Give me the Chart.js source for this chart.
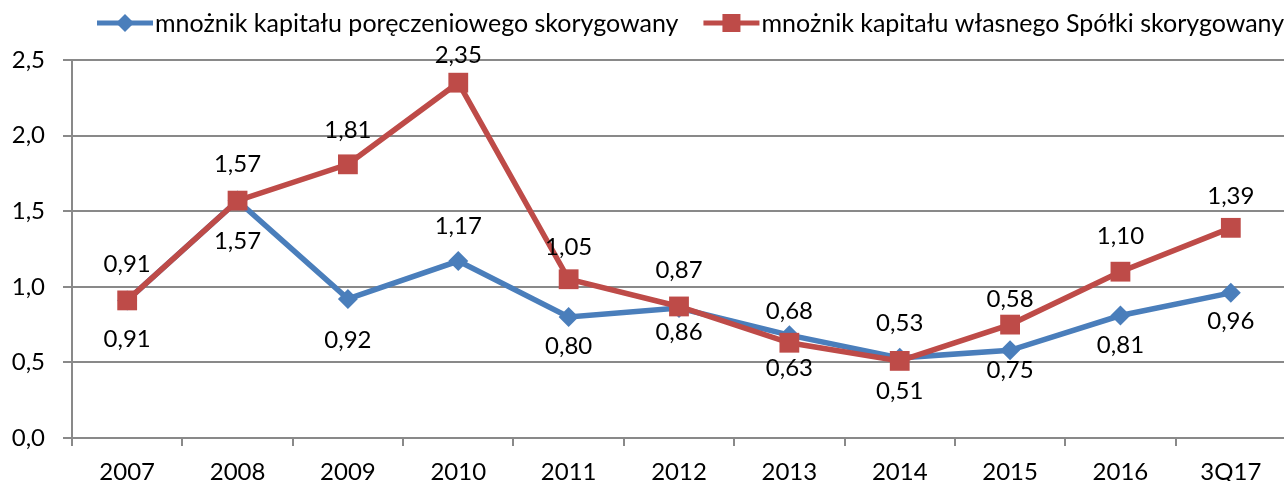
<!DOCTYPE html>
<html>
<head>
<meta charset="utf-8">
<script src="https://cdn.jsdelivr.net/npm/chart.js@4.4.1/dist/chart.umd.min.js"></script>
<style>
  html, body { margin: 0; padding: 0; background: #fff; overflow: hidden; }
  canvas { display: block; }
</style>
</head>
<body>
<canvas id="chart" width="1300" height="481"></canvas>
<script>
// chart values
const categories = ['2007', '2008', '2009', '2010', '2011', '2012', '2013', '2014', '2015', '2016', '3Q17'];
const guaranteeValues = [0.91, 1.57, 0.92, 1.17, 0.80, 0.86, 0.68, 0.53, 0.58, 0.81, 0.96];
const equityValues = [0.91, 1.57, 1.81, 2.35, 1.05, 0.87, 0.63, 0.51, 0.75, 1.10, 1.39];
const seriesNames = [
    'mnożnik kapitału poręczeniowego skorygowany',
    'mnożnik kapitału własnego Spółki skorygowany'
];
const yMin = 0;
const yMax = 2.5;
const yStep = 0.5;

const BLUE = '#4a7ebb';
const RED = '#be4b48';
const GRID = '#898989';
const FONT = 'Lato, "Open Sans", sans-serif';
const FONT_SIZE = 24;
const LEGEND_FONT_SIZE = 25;

const fmt = v => v.toFixed(2).replace('.', ',');

// data label offsets (px, relative to the point) as placed in the original
const guaranteeLabelDy = [38, 40, 40, -36, 28, 23, -25, -36, -52, 29, 27];
const equityLabelDy = [-37, -37, -35, -28, -33, -37, 25, 29, 45, -36, -33];

const dataLabels = {
    id: 'dataLabels',
    afterDatasetsDraw(chart) {
        const ctx = chart.ctx;
        ctx.save();
        ctx.font = `${FONT_SIZE}px ${FONT}`;
        ctx.fillStyle = '#000';
        ctx.textAlign = 'center';
        ctx.textBaseline = 'middle';
        chart.data.datasets.forEach((ds, di) => {
            const meta = chart.getDatasetMeta(di);
            meta.data.forEach((pt, i) => {
                ctx.fillText(fmt(ds.data[i]), pt.x, pt.y + ds.labelDy[i] + 1);
            });
        });
        ctx.restore();
    }
};

function drawMarker(ctx, type, x, y, color, r) {
    ctx.fillStyle = color;
    ctx.beginPath();
    if (type === 'diamond') {
        ctx.moveTo(x - r, y);
        ctx.lineTo(x, y - r);
        ctx.lineTo(x + r, y);
        ctx.lineTo(x, y + r);
        ctx.closePath();
    } else {
        ctx.rect(x - r, y - r, 2 * r, 2 * r);
    }
    ctx.fill();
}

const topLegend = {
    id: 'topLegend',
    afterDraw(chart) {
        const ctx = chart.ctx;
        ctx.save();
        ctx.font = `${LEGEND_FONT_SIZE}px ${FONT}`;
        ctx.textBaseline = 'alphabetic';
        ctx.textAlign = 'left';
        const items = [
            { text: seriesNames[0], color: BLUE, marker: 'diamond', r: 9 },
            { text: seriesNames[1], color: RED, marker: 'square', r: 9 }
        ];
        let x = 97;
        const lineY = 23;
        items.forEach(item => {
            ctx.strokeStyle = item.color;
            ctx.lineWidth = 5;
            ctx.beginPath();
            ctx.moveTo(x, lineY);
            ctx.lineTo(x + 56, lineY);
            ctx.stroke();
            drawMarker(ctx, item.marker, x + 28, lineY, item.color, item.r);
            ctx.fillStyle = '#000';
            ctx.fillText(item.text, x + 58, 32);
            x += 58 + ctx.measureText(item.text).width + 25;
        });
        ctx.restore();
    }
};

const ctx = document.getElementById('chart').getContext('2d');
new Chart(ctx, {
    type: 'line',
    data: {
        labels: categories,
        datasets: [
            {
                label: seriesNames[0],
                data: guaranteeValues,
                labelDy: guaranteeLabelDy,
                borderColor: BLUE,
                backgroundColor: BLUE,
                borderWidth: 5.5,
                pointStyle: 'rectRot',
                pointRadius: 10,
                pointBorderWidth: 0,
                tension: 0,
                order: 2
            },
            {
                label: seriesNames[1],
                data: equityValues,
                labelDy: equityLabelDy,
                borderColor: RED,
                backgroundColor: RED,
                borderWidth: 5.5,
                pointStyle: 'rect',
                pointRadius: 14,
                pointBorderWidth: 0,
                tension: 0,
                order: 1
            }
        ]
    },
    options: {
        responsive: false,
        animation: false,
        devicePixelRatio: 1,
        layout: { padding: { top: 60, right: 7, left: 0, bottom: 0 } },
        plugins: {
            legend: { display: false },
            tooltip: { enabled: false }
        },
        scales: {
            x: {
                type: 'category',
                offset: true,
                afterFit: scale => { scale.height = 43; },
                grid: {
                    offset: true,
                    drawOnChartArea: false,
                    drawTicks: true,
                    tickLength: 8,
                    color: GRID,
                    lineWidth: 2
                },
                border: { display: true, color: GRID, width: 2 },
                ticks: {
                    color: '#000',
                    font: { family: FONT, size: FONT_SIZE },
                    padding: 12,
                    maxRotation: 0,
                    autoSkip: false
                }
            },
            y: {
                min: yMin,
                max: yMax,
                afterFit: scale => { scale.width = 72; },
                grid: {
                    color: GRID,
                    lineWidth: 2,
                    tickLength: 9
                },
                border: { display: true, color: GRID, width: 2 },
                ticks: {
                    stepSize: yStep,
                    color: '#000',
                    font: { family: FONT, size: FONT_SIZE },
                    padding: 18,
                    callback: v => v.toFixed(1).replace('.', ',')
                }
            }
        }
    },
    plugins: [dataLabels, topLegend]
});
</script>
</body>
</html>
